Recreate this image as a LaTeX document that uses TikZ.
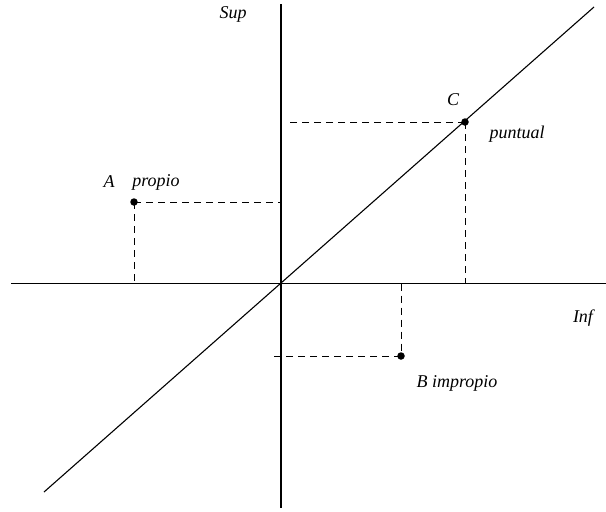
\documentclass[tikz,border=0pt]{standalone}
\usepackage{fontspec}
\setmainfont{Liberation Serif}
\usetikzlibrary{calc}

\begin{document}
\begin{tikzpicture}[
  x=1pt, y=-1pt,
  line cap=butt,
  every node/.style={font=\fontsize{18}{21}\selectfont\itshape},
  axis/.style={line width=1.1pt},
  guide/.style={line width=0.9pt, dash pattern=on 7pt off 5pt},
  dot/.style={circle, fill=black, inner sep=0pt, minimum size=7.5pt}
]
  \useasboundingbox (0,0) rectangle (606,512);

  % Axes and diagonal
  \coordinate (left)   at ( 11,283.5);
  \coordinate (right)  at (606,283.5);
  \coordinate (top)    at (281,  4);
  \coordinate (bottom) at (281,508);
  \coordinate (dlow)   at ( 44,492);
  \coordinate (dhigh)  at (594,  7);

  \draw[axis] (left) -- (right);
  \draw[axis] (top) -- (bottom);
  \draw[axis] (dlow) -- (dhigh);

  % Points
  \node[dot] (ptA) at (134,202) {};
  \node[dot] (ptC) at (465,122) {};
  \node[dot] (ptB) at (401,356) {};

  % Projections on the axes
  \coordinate (Ax) at (134,283.5);
  \coordinate (Ay) at (281,202);
  \coordinate (Cx) at (465,283.5);
  \coordinate (Cy) at (288,122);
  \coordinate (Bx) at (401,283.5);
  \coordinate (By) at (271,356);

  \draw[guide] (ptA.center) -- (Ay);
  \draw[guide] (ptA.center) -- (Ax);
  \draw[guide] (ptC.center) -- (Cy);
  \draw[guide] (ptC.center) -- (Cx);
  \draw[guide] (Bx) -- (ptB.center);
  \draw[guide] (ptB.center) -- (By);

  % Labels
  \node (labA)  at (109,182) {A};
  \node (labAp) at (156,182) {propio};
  \node (labC)  at (453,100) {C};
  \node (labCp) at (517,134) {puntual};
  \node (labB)  at (457,383) {B impropio};
  \node (labI)  at (583,318) {Inf};
  \node (labS)  at (233, 14) {Sup};
\end{tikzpicture}
\end{document}
